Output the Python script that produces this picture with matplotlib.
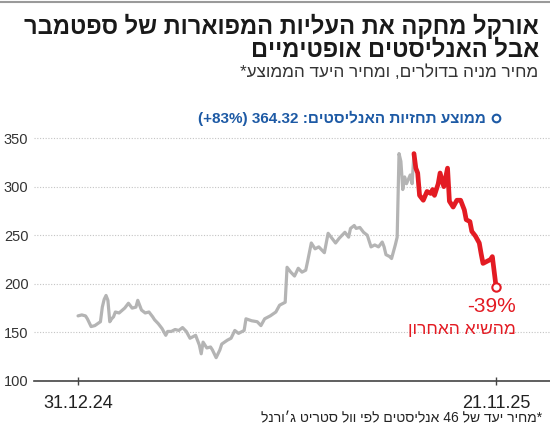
import re
import numpy as np
import matplotlib
matplotlib.use('Agg')
import matplotlib.pyplot as plt
import matplotlib.transforms as mtransforms
from matplotlib.lines import Line2D

# Oracle closing price, USD
dates = ['2024-12-31', '2025-01-03', '2025-01-07', '2025-01-08', '2025-01-13', '2025-01-15',
         '2025-01-21', '2025-01-22', '2025-01-23', '2025-01-24', '2025-01-27', '2025-01-28',
         '2025-01-29', '2025-01-30', '2025-01-31', '2025-02-04', '2025-02-07', '2025-02-11',
         '2025-02-13', '2025-02-18', '2025-02-19', '2025-02-21', '2025-02-25', '2025-02-27',
         '2025-03-03', '2025-03-04', '2025-03-06', '2025-03-10', '2025-03-12', '2025-03-13',
         '2025-03-17', '2025-03-19', '2025-03-21', '2025-03-25', '2025-03-27', '2025-03-31',
         '2025-04-03', '2025-04-07', '2025-04-08', '2025-04-09', '2025-04-11', '2025-04-15',
         '2025-04-16', '2025-04-21', '2025-04-23', '2025-04-24', '2025-04-29', '2025-05-01',
         '2025-05-05', '2025-05-07', '2025-05-12', '2025-05-13', '2025-05-16', '2025-05-21',
         '2025-05-23', '2025-05-28', '2025-06-02', '2025-06-05', '2025-06-09', '2025-06-11',
         '2025-06-12', '2025-06-13', '2025-06-17', '2025-06-20', '2025-06-24', '2025-06-26',
         '2025-06-30', '2025-07-01', '2025-07-03', '2025-07-08', '2025-07-10', '2025-07-15',
         '2025-07-17', '2025-07-21', '2025-07-23', '2025-07-25', '2025-07-30', '2025-08-01',
         '2025-08-04', '2025-08-06', '2025-08-07', '2025-08-11', '2025-08-13', '2025-08-15',
         '2025-08-19', '2025-08-21', '2025-08-25', '2025-08-27', '2025-08-28', '2025-08-29',
         '2025-09-03', '2025-09-04', '2025-09-05', '2025-09-08', '2025-09-09', '2025-09-10',
         '2025-09-11', '2025-09-12', '2025-09-15', '2025-09-16', '2025-09-18', '2025-09-19',
         '2025-09-22', '2025-09-23', '2025-09-24', '2025-09-25', '2025-09-29', '2025-10-01',
         '2025-10-03', '2025-10-06', '2025-10-07', '2025-10-09', '2025-10-10', '2025-10-14',
         '2025-10-16', '2025-10-17', '2025-10-21', '2025-10-23', '2025-10-27', '2025-10-29',
         '2025-10-30', '2025-11-03', '2025-11-04', '2025-11-06', '2025-11-10', '2025-11-11',
         '2025-11-12', '2025-11-14', '2025-11-18', '2025-11-19', '2025-11-21']
prices = [167, 168, 167, 164, 156, 157,
          161, 176, 184, 188, 183, 161,
          164, 166, 171, 170, 175, 180,
          175, 176, 183, 173, 170, 171,
          166, 163, 159, 154, 147, 151,
          151, 153, 152, 155, 151, 144,
          147, 137, 128, 140, 134, 135,
          132, 124, 132, 138, 142, 144,
          152, 149, 152, 164, 162, 161,
          157, 164, 167, 171, 178, 180,
          181, 217, 212, 208, 216, 212,
          214, 223, 242, 236, 238, 232,
          252, 247, 242, 247, 253, 248,
          257, 260, 257, 258, 253, 250,
          238, 240, 238, 243, 238, 230,
          228, 226, 233, 240, 248, 334,
          326, 297, 310, 303, 312, 303,
          334, 319, 314, 291, 286, 295,
          293, 297, 291, 303, 314, 300,
          319, 285, 279, 286, 286, 276,
          266, 264, 254, 249, 242, 231,
          221, 223, 225, 228, 197]
peak_date = '2025-09-22'
target = 364.32
target_pct = '+83%'
drop_pct = '-39%'
market_holidays = ['2025-01-01', '2025-01-09', '2025-01-20', '2025-02-17', '2025-04-18',
                   '2025-05-26', '2025-06-19', '2025-07-04', '2025-09-01']

FAM = ['Liberation Sans Narrow', 'Liberation Sans', 'DejaVu Sans']
plt.rcParams['font.family'] = FAM

def rtl(s):
    # matplotlib has no bidi: flip hebrew to visual order, keep numbers readable
    out = s[::-1]
    return re.sub(r'[0-9][0-9.]*', lambda m: m.group(0)[::-1], out)

GRAY = '#b4b4b4'
RED = '#e31b23'
BLUE = '#1d5aa5'

fig = plt.figure(figsize=(5.5, 4.29), dpi=100)
ax = fig.add_axes([34/550, 1-381/429, 1-34/550, (381-118.6)/429])

x = np.busday_count('2024-12-31', dates, holidays=market_holidays)
k = dates.index(peak_date)
ax.plot(x[:k+1], prices[:k+1], color=GRAY, lw=2.3, solid_joinstyle='round', solid_capstyle='round')
ax.plot(x[k:], prices[k:], color=RED, lw=3.4, solid_joinstyle='round', solid_capstyle='round')
ax.plot(x[-1], prices[-1], 'o', mfc='white', mec=RED, ms=6, mew=1.5, zorder=5)

# target label sits a little above its level, like the original
lift = ax.transData + mtransforms.ScaledTranslation(0, 0.06, fig.dpi_scale_trans)
ax.plot(x[-1], target, 'o', mfc='white', mec=BLUE, ms=5.5, mew=1.5, clip_on=False, transform=lift)
ax.text(x[-1], target, f'({target_pct}) {target:.2f} :' + rtl('ממוצע תחזיות האנליסטים'),
        transform=lift + mtransforms.ScaledTranslation(-0.1, 0, fig.dpi_scale_trans),
        ha='right', va='center', fontsize=11, fontweight='bold', color=BLUE, clip_on=False)

ax.set_xlim(-23.6, 252.9)
ax.set_ylim(100, 370)
ax.set_yticks([100, 150, 200, 250, 300, 350])
ax.yaxis.grid(True, linestyle=(0, (1, 1.5)), color='#c4c4c4', lw=0.8)
ax.set_axisbelow(True)
for s in ['top', 'right', 'left']:
    ax.spines[s].set_visible(False)
ax.spines['bottom'].set_color('#444444')
ax.spines['bottom'].set_linewidth(1.2)
ax.tick_params(axis='y', length=0, pad=4, labelsize=10.5, labelcolor='#333333')
ax.set_xticks([x[0], x[-1]])
ax.set_xticklabels([f'{d[8:10]}.{d[5:7]}.{d[2:4]}' for d in (dates[0], dates[-1])])
ax.tick_params(axis='x', direction='inout', length=6, width=1, color='#444444',
               pad=7, labelsize=13, labelcolor='#222222')

ax.annotate(drop_pct, xy=(x[-1], prices[-1]), xytext=(14, -14), textcoords='offset points',
            ha='right', va='center', fontsize=15, color=RED)
ax.annotate(rtl('מהשיא האחרון'), xy=(x[-1], prices[-1]), xytext=(14, -31),
            textcoords='offset points', ha='right', va='center', fontsize=12.5, color=RED)

fig.add_artist(Line2D([0, 1], [1-1.5/429, 1-1.5/429], color='#9a9a9a', lw=1.5))
fig.text(0.98, 1-26/429, rtl('אורקל מחקה את העליות המפוארות של ספטמבר'),
         ha='right', va='center', fontsize=17, fontweight='bold', color='#1a1a1a')
fig.text(0.98, 1-50/429, rtl('אבל האנליסטים אופטימיים'),
         ha='right', va='center', fontsize=17, fontweight='bold', color='#1a1a1a')
fig.text(0.978, 1-72/429, rtl('מחיר מניה בדולרים, ומחיר היעד הממוצע*'),
         ha='right', va='center', fontsize=12.3, color='#333333')
fig.text(0.985, 1-418/429, rtl('*מחיר יעד של 46 אנליסטים לפי וול סטריט ג׳ורנל'),
         ha='right', va='center', fontsize=10, color='#222222')

fig.savefig('out.png', dpi=100)
